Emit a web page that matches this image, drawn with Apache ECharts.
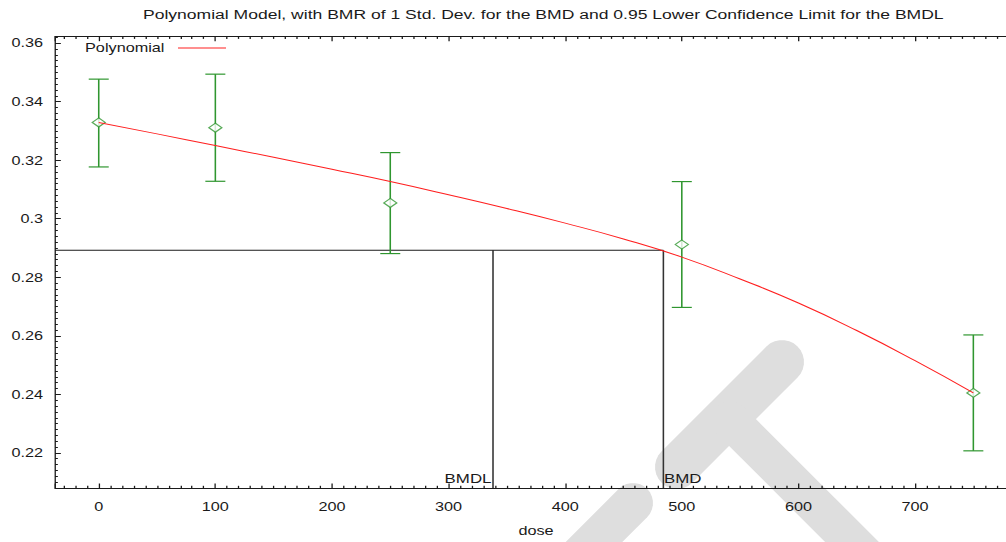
<!DOCTYPE html>
<html>
<head>
<meta charset="utf-8">
<style>
  html, body { margin: 0; padding: 0; background: #fff; overflow: hidden; }
  #chart { width: 774px; height: 542px; transform: scaleX(1.29974); transform-origin: 0 0; }
</style>
<script src="https://cdn.jsdelivr.net/npm/echarts@6/dist/echarts.min.js"></script>
</head>
<body>
<div id="chart"></div>
<script>
// Horizontal stretch of the whole figure (page width / layout width).
const SX = 1006 / 774;

// Observed dose groups: mean response with lower / upper error-bar limits.
const doses = [0, 100, 250, 500, 750];
const means = [0.3329, 0.3311, 0.3054, 0.2912, 0.2405];
const lowerLimits = [0.3177, 0.3128, 0.2881, 0.2697, 0.2207];
const upperLimits = [0.3477, 0.3494, 0.3226, 0.3127, 0.2603];

// Fitted polynomial curve, sampled along the dose axis.
const curveDoses = [0, 50, 100, 150, 200, 250, 300, 350, 400, 450, 500, 550, 600, 650, 700, 750];
const curveValues = [0.3329, 0.3290, 0.3250, 0.3210, 0.3169, 0.3127, 0.3082, 0.3035, 0.2985, 0.2931,
                     0.2869, 0.2794, 0.2712, 0.2618, 0.2515, 0.2405];

// Benchmark dose and its lower confidence limit at the BMR response level.
const markerNames = ['BMDL', 'BMD'];
const markerDoses = [338.1, 484.2];
const bmrResponse = 0.2892;

// Axis ranges.
const doseRange = [-37.5, 778];
const responseRange = [0.208, 0.3622];

const FONT = '"Liberation Sans", Arial, Helvetica, sans-serif';
const GREEN = '#2f962f';
const RED = '#ff2020';
const INK = '#1a1a1a';

// Rounded bar outline given in page pixels, converted to layout pixels.
function capsule(x1, y1, x2, y2, w) {
  const a = Math.atan2(y2 - y1, x2 - x1);
  const r = w / 2;
  const pts = [];
  const n = 14;
  for (let i = 0; i <= n; i++) {
    const t = a - Math.PI / 2 + Math.PI * i / n;
    pts.push([x2 + r * Math.cos(t), y2 + r * Math.sin(t)]);
  }
  for (let i = 0; i <= n; i++) {
    const t = a + Math.PI / 2 + Math.PI * i / n;
    pts.push([x1 + r * Math.cos(t), y1 + r * Math.sin(t)]);
  }
  return pts.map(p => [p[0] / SX, p[1]]);
}

// Light grey watermark behind the plot.
const stampParts = [
  capsule(677, 467, 782, 362, 44),
  capsule(730, 420, 905, 595, 38),
  capsule(518, 618, 633, 503, 40)
];

// Legend sample line (page pixels), drawn next to the legend label.
const legendSample = { x1: 178, x2: 226, y: 48 };

const chart = echarts.init(document.getElementById('chart'), null, { renderer: 'svg' });

const doseAxisCommon = {
  type: 'value',
  min: doseRange[0],
  max: doseRange[1],
  splitNumber: 8,
  z: 3,
  axisLine: { show: true, onZero: false, lineStyle: { color: INK, width: 1 } },
  axisTick: { show: true, inside: true, length: 4.5, lineStyle: { color: INK, width: 1 } },
  minorTick: { show: true, splitNumber: 10, length: 2.2, lineStyle: { color: INK, width: 1 } },
  splitLine: { show: false },
  minorSplitLine: { show: false }
};

const option = {
  animation: false,
  backgroundColor: '#fff',
  color: [RED, GREEN],
  title: {
    text: 'Polynomial Model, with BMR of 1 Std. Dev. for the BMD and 0.95 Lower Confidence Limit for the BMDL',
    left: 143 / SX,
    top: 7,
    padding: 0,
    textStyle: { fontFamily: FONT, fontSize: 13.5, fontWeight: 'normal', color: INK }
  },
  legend: {
    data: ['Polynomial'],
    left: 85 / SX,
    top: 41,
    padding: 0,
    align: 'right',
    itemWidth: 48 / SX,
    itemHeight: 14,
    // the built-in sample is hidden; a plain red stroke is drawn in its place
    itemStyle: { opacity: 0 },
    lineStyle: { opacity: 0 },
    textStyle: { fontFamily: FONT, fontSize: 12.5, color: INK, padding: [0, 11 / SX - 5, 0, 0] }
  },
  graphic: {
    elements: stampParts.map(points => ({
      type: 'polygon',
      silent: true,
      z: -1,
      shape: { points },
      style: { fill: '#dedede' }
    })).concat([{
      type: 'line',
      silent: true,
      z: 10,
      shape: {
        x1: legendSample.x1 / SX, y1: legendSample.y,
        x2: legendSample.x2 / SX, y2: legendSample.y
      },
      style: { stroke: RED, lineWidth: 1 }
    }])
  },
  grid: {
    left: 55 / SX,
    right: 0,
    top: 36.7,
    bottom: 542 - 492.7,
    containLabel: false
  },
  xAxis: [
    Object.assign({}, doseAxisCommon, {
      position: 'bottom',
      name: 'dose',
      nameLocation: 'middle',
      nameGap: 36,
      nameTextStyle: { fontFamily: FONT, fontSize: 12.5, color: INK, padding: [0, 0, 0, 11 / SX] },
      axisLabel: {
        showMinLabel: false, showMaxLabel: false, margin: 12.5,
        fontFamily: FONT, fontSize: 12.5, color: INK
      }
    }),
    Object.assign({}, doseAxisCommon, {
      position: 'top',
      axisLabel: { show: false }
    })
  ],
  yAxis: {
    type: 'value',
    min: responseRange[0],
    max: responseRange[1],
    splitNumber: 8,
    z: 3,
    axisLine: { show: true, onZero: false, lineStyle: { color: INK, width: 1 } },
    axisTick: { show: true, inside: true, length: 4.5, lineStyle: { color: INK, width: 1 } },
    minorTick: { show: true, splitNumber: 10, length: 2.2, lineStyle: { color: INK, width: 1 } },
    splitLine: { show: false },
    minorSplitLine: { show: false },
    axisLabel: {
      showMinLabel: false, showMaxLabel: false, margin: 12 / SX,
      fontFamily: FONT, fontSize: 12.5, color: INK
    }
  },
  series: [
    {
      type: 'line',
      name: 'Polynomial',
      z: 5,
      data: curveDoses.map((d, i) => [d, curveValues[i]]),
      smooth: true,
      symbol: 'none',
      lineStyle: { color: RED, width: 1 },
      itemStyle: { color: RED }
    },
    {
      // BMD / BMDL reference lines with their labels
      type: 'custom',
      name: 'markers',
      z: 2,
      data: markerDoses.map(d => [d]),
      renderItem(params, api) {
        const x = api.value(0);
        const top = api.coord([x, bmrResponse]);
        const bottom = api.coord([x, responseRange[0]]);
        const isLeft = params.dataIndex === 0;
        const children = [
          {
            type: 'line',
            shape: { x1: top[0], y1: top[1], x2: bottom[0], y2: bottom[1] },
            style: { stroke: '#333', lineWidth: 1.2 }
          },
          {
            type: 'text',
            x: top[0] + (isLeft ? -1.5 / SX : 0.5 / SX),
            y: bottom[1] - 3,
            style: {
              text: markerNames[params.dataIndex],
              align: isLeft ? 'right' : 'left',
              verticalAlign: 'bottom',
              fontFamily: FONT,
              fontSize: 13,
              fill: INK
            }
          }
        ];
        if (params.dataIndex === markerDoses.length - 1) {
          const start = api.coord([doseRange[0], bmrResponse]);
          children.push({
            type: 'line',
            shape: { x1: start[0], y1: start[1], x2: top[0], y2: top[1] },
            style: { stroke: INK, lineWidth: 1 }
          });
        }
        return { type: 'group', children };
      }
    },
    {
      // error bars around each group mean
      type: 'custom',
      name: 'limits',
      z: 3,
      data: doses.map((d, i) => [d, lowerLimits[i], upperLimits[i]]),
      encode: { x: 0, y: [1, 2] },
      renderItem(params, api) {
        const x = api.value(0);
        const lo = api.coord([x, api.value(1)]);
        const hi = api.coord([x, api.value(2)]);
        const hw = 10 / SX;
        const style = { stroke: GREEN, lineWidth: 1.2 };
        return {
          type: 'group',
          children: [
            { type: 'line', shape: { x1: hi[0], y1: hi[1], x2: lo[0], y2: lo[1] }, style },
            { type: 'line', shape: { x1: hi[0] - hw, y1: hi[1], x2: hi[0] + hw, y2: hi[1] }, style },
            { type: 'line', shape: { x1: lo[0] - hw, y1: lo[1], x2: lo[0] + hw, y2: lo[1] }, style }
          ]
        };
      }
    },
    {
      type: 'scatter',
      name: 'means',
      z: 4,
      data: doses.map((d, i) => [d, means[i]]),
      symbol: 'diamond',
      symbolSize: [10, 9],
      itemStyle: { color: '#fff', borderColor: GREEN, borderWidth: 1.1 }
    }
  ]
};

chart.setOption(option);
</script>
</body>
</html>
